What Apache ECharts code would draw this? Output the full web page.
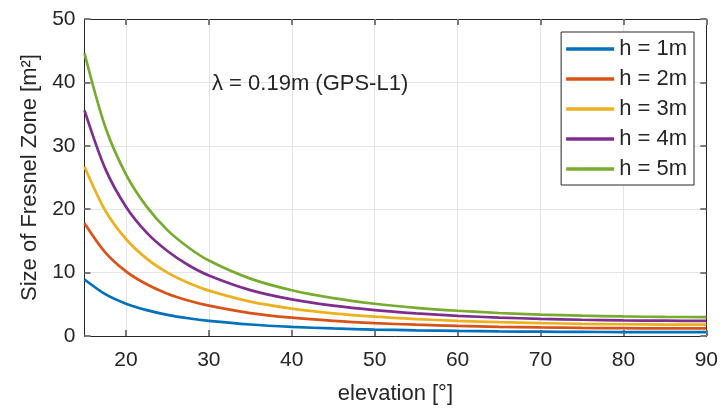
<!DOCTYPE html>
<html>
<head>
<meta charset="utf-8">
<script src="https://cdn.jsdelivr.net/npm/echarts@6/dist/echarts.min.js"></script>
<style>
  html, body { margin: 0; padding: 0; background: #fff; }
  #chart { width: 721px; height: 410px; }
</style>
</head>
<body>
<div id="chart"></div>
<script>
// Elevation angles (degrees) at which the zone size is sampled
const elevation = [15, 17.5, 20, 22.5, 25, 27.5, 30, 35, 40, 45, 50, 55, 60, 65, 70, 75, 80, 85, 90];

// Size of the first Fresnel zone [m^2] for each antenna height
const h1 = [8.91, 6.60, 5.10, 4.08, 3.34, 2.80, 2.39, 1.81, 1.44, 1.19, 1.02, 0.89, 0.80, 0.73, 0.68, 0.64, 0.62, 0.60, 0.60];
const h2 = [17.8, 13.2, 10.2, 8.16, 6.68, 5.60, 4.78, 3.62, 2.89, 2.39, 2.03, 1.78, 1.59, 1.45, 1.35, 1.28, 1.23, 1.20, 1.19];
const h3 = [26.7, 19.8, 15.3, 12.2, 10.0, 8.40, 7.16, 5.43, 4.33, 3.58, 3.05, 2.67, 2.39, 2.18, 2.03, 1.92, 1.85, 1.80, 1.79];
const h4 = [35.6, 26.4, 20.4, 16.3, 13.4, 11.2, 9.55, 7.24, 5.78, 4.78, 4.07, 3.56, 3.18, 2.91, 2.70, 2.56, 2.46, 2.41, 2.39];
const h5 = [44.6, 33.0, 25.5, 20.4, 16.7, 14.0, 11.9, 9.05, 7.22, 5.97, 5.09, 4.45, 3.98, 3.63, 3.38, 3.20, 3.08, 3.01, 2.99];

const seriesNames = ['h = 1m', 'h = 2m', 'h = 3m', 'h = 4m', 'h = 5m'];
const seriesValues = [h1, h2, h3, h4, h5];
const colors = ['#0072BD', '#D95319', '#EDB120', '#7E2F8E', '#77AC30'];

// Tick positions
const xTicks = [20, 30, 40, 50, 60, 70, 80, 90];
const yTicks = [0, 10, 20, 30, 40, 50];

const annotation = 'λ = 0.19m (GPS-L1)';

const FONT = 'Liberation Sans, Arial, Helvetica, sans-serif';
const INK = '#262626';
const GRIDC = '#e5e5e5';

const chart = echarts.init(document.getElementById('chart'), null, { renderer: 'canvas' });

function baseX(pos, showLabels) {
  return {
    type: 'value', position: pos, min: 15, max: 90,
    axisLine: { show: true, onZero: false, lineStyle: { color: INK, width: 1 } },
    axisTick: { show: true, inside: true, length: 6, customValues: xTicks, lineStyle: { color: '#7a7a7a', width: 2 } },
    axisLabel: { show: showLabels, customValues: xTicks, color: INK, fontFamily: FONT, fontSize: 21, margin: 14 },
    splitLine: { show: showLabels, lineStyle: { color: GRIDC, width: 1 } }
  };
}
function baseY(pos, showLabels) {
  return {
    type: 'value', position: pos, min: 0, max: 50, interval: 10,
    axisLine: { show: true, onZero: false, lineStyle: { color: INK, width: 1 } },
    axisTick: { show: true, inside: true, length: 6, lineStyle: { color: '#7a7a7a', width: 2 } },
    axisLabel: { show: showLabels, customValues: yTicks, color: INK, fontFamily: FONT, fontSize: 21, margin: 9 },
    splitLine: { show: showLabels, lineStyle: { color: GRIDC, width: 1 } }
  };
}

const xBottom = Object.assign(baseX('bottom', true), {
  name: 'elevation [°]', nameLocation: 'middle', nameGap: 47,
  nameTextStyle: { color: INK, fontFamily: FONT, fontSize: 22 }
});
const yLeft = Object.assign(baseY('left', true), {
  name: 'Size of Fresnel Zone [m²]', nameLocation: 'middle', nameGap: 34,
  nameTextStyle: { color: INK, fontFamily: FONT, fontSize: 22 }
});

const option = {
  animation: false,
  backgroundColor: '#ffffff',
  grid: { left: 84.5, right: 14.3, top: 19, bottom: 70.7, containLabel: false },
  xAxis: [xBottom, baseX('top', false)],
  yAxis: [yLeft, baseY('right', false)],
  legend: {
    orient: 'vertical', right: 27, top: 32,
    backgroundColor: '#ffffff', borderColor: INK, borderWidth: 1,
    padding: [6, 7, 5, 5], itemGap: 8, itemWidth: 48, itemHeight: 3.5,
    icon: 'rect',
    textStyle: { color: INK, fontFamily: FONT, fontSize: 22, lineHeight: 22 },
    data: seriesNames
  },
  graphic: [{
    type: 'text', left: 212, top: 73, z: 10,
    style: { text: annotation, fill: INK, font: '22px ' + FONT }
  }],
  series: seriesValues.map((vals, i) => ({
    name: seriesNames[i], type: 'line', xAxisIndex: 0, yAxisIndex: 0,
    smooth: 0.3, symbol: 'none',
    data: elevation.map((e, k) => [e, vals[k]]),
    lineStyle: { color: colors[i], width: 2.7 },
    itemStyle: { color: colors[i] }
  }))
};

chart.setOption(option);
</script>
</body>
</html>
